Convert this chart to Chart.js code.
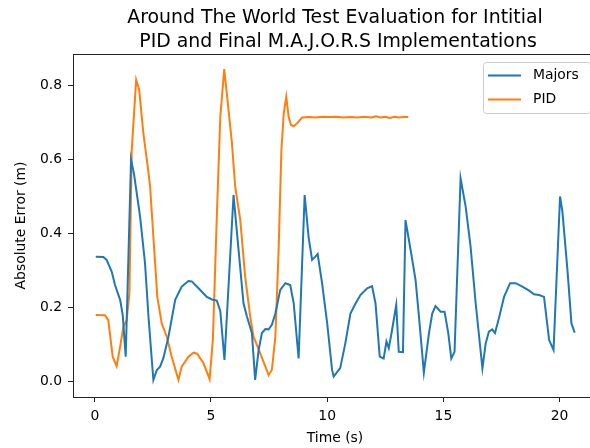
<!DOCTYPE html>
<html>
<head>
<meta charset="utf-8">
<script src="https://cdn.jsdelivr.net/npm/chart.js@4"></script>
<style>
    html, body { margin: 0; padding: 0; background: #fff; overflow: hidden; }
    #wrap { width: 600px; height: 448px; position: relative; }
</style>
</head>
<body>
<div id="wrap"><canvas id="errorChart"></canvas></div>
<script>
// Around The World test - absolute error over time

const titleLines = ["Around The World Test Evaluation for Intitial", " PID and Final M.A.J.O.R.S Implementations"];
const seriesNames = ["Majors", "PID"];
const xTicks = [0, 5, 10, 15, 20];
const yTicks = [0.0, 0.2, 0.4, 0.6, 0.8];

const majorsTime = [
    0.04, 0.37, 0.51, 0.73, 0.87, 1.09, 1.2, 1.33, 1.56, 1.69, 1.95, 2.16, 2.31, 2.52, 2.67, 2.81,
    2.95, 3.17, 3.46, 3.74, 4.03, 4.17, 4.39, 4.82, 5.04, 5.25, 5.4, 5.58, 5.97, 6.12, 6.4, 6.55,
    6.76, 6.9, 7.05, 7.19, 7.34, 7.48, 7.62, 7.77, 7.98, 8.2, 8.41, 8.56, 8.77, 9.03, 9.2, 9.35,
    9.49, 9.59, 9.78, 10.0, 10.21, 10.28, 10.5, 10.56, 10.78, 11.0, 11.22, 11.43, 11.72, 11.93, 12.08, 12.26,
    12.43, 12.55, 12.65, 12.77, 12.97, 13.08, 13.26, 13.37, 13.59, 13.8, 13.95, 14.16, 14.38, 14.52, 14.66, 14.88,
    15.05, 15.21, 15.34, 15.48, 15.74, 15.96, 16.17, 16.39, 16.68, 16.82, 16.96, 17.1, 17.22, 17.39, 17.61, 17.87,
    18.11, 18.4, 18.69, 18.9, 19.12, 19.33, 19.55, 19.74, 20.02, 20.12, 20.34, 20.51, 20.65
];
const majorsError = [
    0.337, 0.336, 0.328, 0.296, 0.26, 0.22, 0.18, 0.066, 0.60, 0.56, 0.445, 0.32, 0.174, 0.003, 0.03, 0.039,
    0.062, 0.12, 0.22, 0.256, 0.271, 0.27, 0.256, 0.228, 0.221, 0.218, 0.19, 0.057, 0.504, 0.40, 0.21, 0.174,
    0.13, 0.003, 0.084, 0.13, 0.141, 0.14, 0.152, 0.183, 0.247, 0.265, 0.26, 0.21, 0.061, 0.504, 0.39, 0.328,
    0.337, 0.344, 0.265, 0.156, 0.03, 0.012, 0.03, 0.035, 0.102, 0.183, 0.21, 0.233, 0.251, 0.257, 0.21, 0.066,
    0.061, 0.107, 0.089, 0.13, 0.206, 0.079, 0.078, 0.436, 0.355, 0.275, 0.174, 0.023, 0.13, 0.183, 0.203, 0.188,
    0.188, 0.13, 0.061, 0.079, 0.549, 0.472, 0.364, 0.21, 0.034, 0.102, 0.134, 0.14, 0.13, 0.17, 0.228, 0.265,
    0.265, 0.256, 0.245, 0.235, 0.233, 0.228, 0.111, 0.084, 0.5, 0.46, 0.30, 0.156, 0.131
];

const pidTime = [
    0.04, 0.44, 0.58, 0.77, 0.94, 1.09, 1.23, 1.37, 1.49, 1.59, 1.78, 1.91, 2.09, 2.26, 2.38, 2.52,
    2.69, 2.88, 3.1, 3.31, 3.6, 3.74, 4.03, 4.25, 4.4, 4.68, 4.94, 5.08, 5.25, 5.4, 5.57, 5.68,
    5.9, 6.04, 6.26, 6.47, 6.69, 6.83, 7.12, 7.34, 7.48, 7.62, 7.77, 7.91, 8.03, 8.13, 8.24, 8.34,
    8.44, 8.56, 8.7, 8.92, 9.2, 9.5, 9.8, 10.1, 10.4, 10.7, 11.0, 11.3, 11.6, 11.9, 12.1, 12.3,
    12.5, 12.7, 12.9, 13.1, 13.3, 13.49
];
const pidError = [
    0.179, 0.178, 0.165, 0.066, 0.04, 0.093, 0.147, 0.165, 0.238, 0.626, 0.816, 0.789, 0.671, 0.59, 0.527, 0.391,
    0.228, 0.156, 0.12, 0.066, 0.003, 0.039, 0.066, 0.077, 0.074, 0.048, 0.005, 0.111, 0.445, 0.716, 0.845, 0.78,
    0.645, 0.527, 0.436, 0.283, 0.174, 0.12, 0.075, 0.039, 0.016, 0.03, 0.12, 0.355, 0.626, 0.725, 0.77, 0.716,
    0.694, 0.69, 0.698, 0.714, 0.715, 0.714, 0.716, 0.715, 0.716, 0.714, 0.715, 0.714, 0.716, 0.714, 0.717, 0.714,
    0.716, 0.713, 0.716, 0.714, 0.715, 0.715
];

const FONT = "'DejaVu Sans', sans-serif";
const colors = ["#1f77b4", "#ff7f0e"];

function toPoints(xs, ys) {
    return xs.map((x, i) => ({ x: x, y: ys[i] }));
}

// title, frame and legend drawn the way matplotlib lays them out
const extrasPlugin = {
    id: "extras",
    afterDraw(chart) {
        const ctx = chart.ctx;
        const area = chart.chartArea;
        ctx.save();

        // axes frame
        ctx.strokeStyle = "#222";
        ctx.lineWidth = 1;
        ctx.strokeRect(area.left + 0.5, area.top + 0.5, area.right - area.left - 1, area.bottom - area.top);

        // title
        ctx.fillStyle = "#000";
        ctx.font = "18.9px " + FONT;
        ctx.textAlign = "center";
        ctx.textBaseline = "alphabetic";
        const cx = (area.left + area.right) / 2;
        ctx.fillText(titleLines[0], cx, 23.3);
        ctx.fillText(titleLines[1], cx, 46.7);

        // legend
        const boxRight = area.right - 7;
        const boxLeft = boxRight - 107;
        const boxTop = area.top + 8;
        const boxH = 51;
        ctx.fillStyle = "rgba(255,255,255,0.8)";
        ctx.strokeStyle = "#cccccc";
        ctx.beginPath();
        ctx.roundRect(boxLeft + 0.5, boxTop + 0.5, boxRight - boxLeft, boxH, 3);
        ctx.fill();
        ctx.stroke();

        ctx.font = "13.9px " + FONT;
        ctx.textAlign = "left";
        ctx.textBaseline = "middle";
        seriesNames.forEach((name, i) => {
            const y = boxTop + 13.5 + i * 24;
            ctx.strokeStyle = colors[i];
            ctx.lineWidth = 2;
            ctx.beginPath();
            ctx.moveTo(boxLeft + 5, y);
            ctx.lineTo(boxLeft + 38, y);
            ctx.stroke();
            ctx.fillStyle = "#000";
            ctx.fillText(name, boxLeft + 50, y);
        });

        ctx.restore();
    }
};

const ctx = document.getElementById("errorChart");

new Chart(ctx, {
    type: "line",
    data: {
        datasets: [
            {
                label: seriesNames[0],
                data: toPoints(majorsTime, majorsError),
                borderColor: colors[0],
                borderWidth: 2,
                pointRadius: 0,
                tension: 0,
                fill: false
            },
            {
                label: seriesNames[1],
                data: toPoints(pidTime, pidError),
                borderColor: colors[1],
                borderWidth: 2,
                pointRadius: 0,
                tension: 0,
                fill: false
            }
        ]
    },
    options: {
        responsive: true,
        maintainAspectRatio: false,
        animation: false,
        layout: { padding: { top: 54, right: 3, left: 0, bottom: 0 } },
        plugins: {
            legend: { display: false },
            title: { display: false },
            tooltip: { enabled: false }
        },
        scales: {
            x: {
                type: "linear",
                min: -0.938,
                max: 21.61,
                afterBuildTicks: scale => { scale.ticks = xTicks.map(v => ({ value: v })); },
                afterFit: scale => { scale.height = 51; },
                grid: { drawOnChartArea: false, drawTicks: true, tickLength: 5, color: "#222" },
                border: { display: false },
                ticks: {
                    color: "#000",
                    font: { family: FONT, size: 13.9 },
                    padding: 6,
                    maxRotation: 0,
                    callback: v => String(v)
                },
                title: {
                    display: true,
                    text: "Time (s)",
                    color: "#000",
                    font: { family: FONT, size: 13.9 },
                    padding: { top: 0, bottom: 1.5 }
                }
            },
            y: {
                min: -0.0433,
                max: 0.886,
                afterBuildTicks: scale => { scale.ticks = yTicks.map(v => ({ value: v })); },
                afterFit: scale => { scale.width = 73; },
                grid: { drawOnChartArea: false, drawTicks: true, tickLength: 5, color: "#222" },
                border: { display: false },
                ticks: {
                    color: "#000",
                    font: { family: FONT, size: 13.9 },
                    padding: 6,
                    callback: v => v.toFixed(1)
                },
                title: {
                    display: true,
                    text: "Absolute Error (m)",
                    color: "#000",
                    font: { family: FONT, size: 13.9 },
                    padding: { top: 13, bottom: 0 }
                }
            }
        }
    },
    plugins: [extrasPlugin]
});
</script>
</body>
</html>
